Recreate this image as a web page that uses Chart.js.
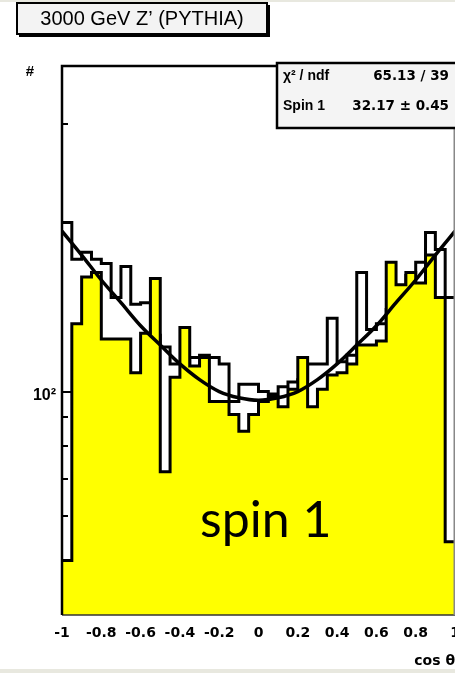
<!DOCTYPE html>
<html>
<head>
<meta charset="utf-8">
<script src="https://cdn.jsdelivr.net/npm/chart.js@4.4.1/dist/chart.umd.min.js"></script>
<style>
  html, body { margin: 0; padding: 0; background: #fff; overflow: hidden; }
  canvas { display: block; }
</style>
</head>
<body>
<canvas id="c" width="455" height="673"></canvas>
<script>
// cos(theta) binning
const X_MIN = -1;
const X_MAX = 1;
const N_BINS = 40;

// entries per bin, outline-only histogram
const OPEN_COUNTS = [200, 172, 177, 172, 169, 147, 167, 143, 144, 126,
                     120, 112, 112, 115, 116, 115, 112, 96, 103, 103,
                     100, 99, 102, 104, 105, 112, 112, 135, 113, 116,
                     163, 129, 132, 140, 152, 161, 170, 192, 179, 147];

// entries per bin, yellow filled histogram
const FILLED_COUNTS = [50, 132, 160, 163, 124, 124, 124, 108, 127, 159,
                       72, 106, 130, 111, 115, 96, 96, 91, 85, 91,
                       96, 98, 94, 101, 115, 94, 101, 107, 108, 112,
                       121, 121, 123, 170, 155, 163, 156, 175, 147, 54];

// fitted spin-1 curve, sampled along cos(theta)
const FIT_X = [-1, -0.9, -0.8, -0.7, -0.6, -0.5, -0.4, -0.3, -0.2, -0.1, 0,
               0.1, 0.2, 0.3, 0.4, 0.5, 0.6, 0.7, 0.8, 0.9, 1];
const FIT_Y = [193, 175, 158, 144, 131, 121, 112, 105, 100, 97.5, 96.5,
               97.5, 100, 105, 112, 121, 131, 144, 158, 175, 193];

// axis ticks
const X_TICKS = [-1, -0.8, -0.6, -0.4, -0.2, 0, 0.2, 0.4, 0.6, 0.8, 1];
const X_TICK_LABELS = ['-1', '-0.8', '-0.6', '-0.4', '-0.2', '0', '0.2', '0.4', '0.6', '0.8', '1'];
const Y_TICKS = [50, 60, 70, 80, 90, 100, 200, 300];
const Y_LABELLED = { 100: '10\u00B2' };
const Y_MIN = 40;
const Y_MAX = 380;

// texts
const TITLE = '3000 GeV Z\u2019 (PYTHIA)';
const STATS_ROWS = [['\u03C7\u00B2 / ndf', '65.13 / 39'], ['Spin 1', '32.17 \u00B1 0.45']];
const NOTE = 'spin 1';
const X_TITLE = 'cos \u03B8';
const Y_TITLE = '#';

// turn per-bin counts into a step outline
function stepPoints(counts) {
  const w = (X_MAX - X_MIN) / N_BINS;
  const pts = [];
  counts.forEach((v, i) => {
    const lo = X_MIN + i * w;
    pts.push({ x: lo, y: v }, { x: lo + w, y: v });
  });
  return pts;
}

const pagePlugin = {
  id: 'page',
  beforeDraw(chart) {
    const ctx = chart.ctx;
    ctx.save();
    ctx.fillStyle = '#ffffff';
    ctx.fillRect(0, 0, chart.width, chart.height);
    ctx.fillStyle = '#e8e8df';
    ctx.fillRect(0, 0, chart.width, 2);
    ctx.fillRect(0, chart.height - 4, chart.width, 4);
    ctx.restore();
  }
};

// frame and inward tick marks on the y axis
const framePlugin = {
  id: 'frame',
  afterDatasetsDraw(chart) {
    const ctx = chart.ctx;
    const a = chart.chartArea;
    const ys = chart.scales.y;
    ctx.save();
    ctx.strokeStyle = '#000';
    ctx.lineWidth = 2;
    ys.ticks.forEach(t => {
      const py = Math.round(ys.getPixelForValue(t.value));
      const len = Y_LABELLED[t.value] ? 10 : 6;
      ctx.beginPath();
      ctx.moveTo(a.left, py);
      ctx.lineTo(a.left + len, py);
      ctx.stroke();
    });
    // bottom
    ctx.lineWidth = 1.5;
    ctx.strokeStyle = '#333';
    ctx.beginPath();
    ctx.moveTo(a.left, a.bottom);
    ctx.lineTo(a.right, a.bottom);
    ctx.stroke();
    // right
    ctx.strokeStyle = '#888';
    ctx.beginPath();
    ctx.moveTo(a.right - 0.75, a.top);
    ctx.lineTo(a.right - 0.75, a.bottom);
    ctx.stroke();
    // left and top
    ctx.strokeStyle = '#000';
    ctx.lineWidth = 2.5;
    ctx.beginPath();
    ctx.moveTo(a.left, a.bottom);
    ctx.lineTo(a.left, a.top);
    ctx.lineTo(a.right, a.top);
    ctx.stroke();
    ctx.restore();
  }
};

const textPlugin = {
  id: 'texts',
  afterDraw(chart) {
    const ctx = chart.ctx;
    ctx.save();

    // title box with shadow
    ctx.fillStyle = '#f3f3f3';
    ctx.fillRect(17, 3, 250, 31);
    ctx.strokeStyle = '#000';
    ctx.lineWidth = 2;
    ctx.strokeRect(17, 3, 250, 31);
    ctx.beginPath();
    ctx.moveTo(269, 5);
    ctx.lineTo(269, 36);
    ctx.lineTo(19, 36);
    ctx.stroke();
    ctx.fillStyle = '#000';
    ctx.font = '20px "Liberation Sans", Arial, sans-serif';
    ctx.textAlign = 'center';
    ctx.textBaseline = 'middle';
    ctx.fillText(TITLE, 142, 19.5);

    // y-axis title
    ctx.font = 'bold 15px "Liberation Sans", Arial, sans-serif';
    ctx.fillText(Y_TITLE, 30, 72);

    // fit statistics box
    ctx.fillStyle = '#f4f4f4';
    ctx.fillRect(277, 63, 180, 65);
    ctx.lineWidth = 2.5;
    ctx.strokeRect(277, 63, 180, 65);
    ctx.fillStyle = '#000';
    ctx.textBaseline = 'alphabetic';
    const baselines = [80, 110];
    STATS_ROWS.forEach((row, i) => {
      ctx.textAlign = 'left';
      ctx.font = 'bold 14px "Liberation Sans", Arial, sans-serif';
      ctx.fillText(row[0], 283, baselines[i]);
      ctx.textAlign = 'right';
      ctx.font = 'bold 13.5px "DejaVu Sans", sans-serif';
      ctx.fillText(row[1], 449, baselines[i]);
    });

    // large annotation
    ctx.textAlign = 'left';
    ctx.font = '50px Lato, "Open Sans", sans-serif';
    ctx.fillText(NOTE, 200, 537);
    ctx.restore();
  }
};

new Chart(document.getElementById('c'), {
  type: 'line',
  data: {
    datasets: [
      {
        label: 'fit',
        data: FIT_X.map((x, i) => ({ x: x, y: FIT_Y[i] })),
        borderColor: '#000',
        borderWidth: 3.5,
        pointRadius: 0,
        fill: false,
        cubicInterpolationMode: 'monotone',
        order: 0
      },
      {
        label: 'filled',
        data: stepPoints(FILLED_COUNTS),
        borderColor: '#000',
        borderWidth: 3,
        backgroundColor: '#ffff00',
        fill: 'start',
        pointRadius: 0,
        tension: 0,
        borderJoinStyle: 'miter',
        order: 1
      },
      {
        label: 'open',
        data: stepPoints(OPEN_COUNTS),
        borderColor: '#000',
        borderWidth: 3,
        fill: false,
        pointRadius: 0,
        tension: 0,
        borderJoinStyle: 'miter',
        order: 2
      }
    ]
  },
  options: {
    responsive: false,
    animation: false,
    devicePixelRatio: 1,
    layout: { padding: { top: 66, left: 0, right: 0, bottom: 0 } },
    plugins: { legend: { display: false }, tooltip: { enabled: false } },
    scales: {
      x: {
        type: 'linear',
        min: X_MIN,
        max: X_MAX,
        grid: { display: false, drawTicks: false },
        border: { display: false },
        afterBuildTicks(scale) { scale.ticks = X_TICKS.map(v => ({ value: v })); },
        afterFit(scale) {
          scale.height = 58;
          scale.paddingLeft = 0;
          scale.paddingRight = 0;
        },
        ticks: {
          autoSkip: false,
          maxRotation: 0,
          minRotation: 0,
          padding: 10,
          color: '#000',
          font: { family: '"DejaVu Sans", sans-serif', size: 14, weight: 'bold' },
          callback: (v, i) => X_TICK_LABELS[i]
        },
        title: {
          display: true,
          text: X_TITLE,
          align: 'end',
          color: '#000',
          font: { family: '"DejaVu Sans", sans-serif', size: 14, weight: 'bold' },
          padding: { top: 0, bottom: 3 }
        }
      },
      y: {
        type: 'logarithmic',
        min: Y_MIN,
        max: Y_MAX,
        grid: { display: false, drawTicks: false },
        border: { display: false },
        afterBuildTicks(scale) { scale.ticks = Y_TICKS.map(v => ({ value: v })); },
        afterFit(scale) {
          scale.width = 62;
          scale.paddingTop = 0;
          scale.paddingBottom = 0;
        },
        ticks: {
          autoSkip: false,
          padding: 6,
          labelOffset: 4,
          color: '#000',
          font: { family: '"Liberation Sans", Arial, sans-serif', size: 16, weight: 'bold' },
          callback: (v) => Y_LABELLED[v] || ''
        }
      }
    }
  },
  plugins: [pagePlugin, framePlugin, textPlugin]
});
</script>
</body>
</html>
